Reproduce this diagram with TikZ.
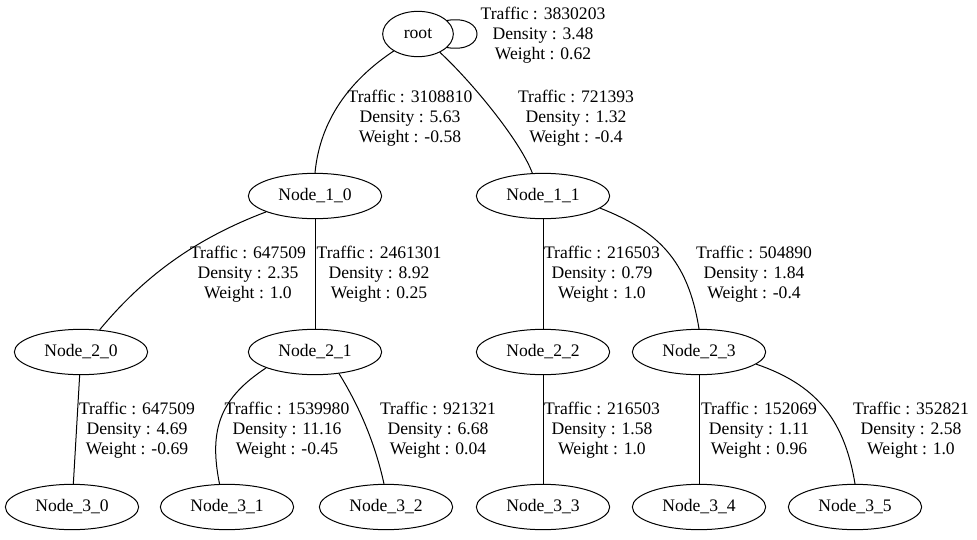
\documentclass[tikz,border=0pt]{standalone}
\usepackage{fontspec}
\setmainfont{Liberation Serif}
\newfontfamily\tmsfont{Liberation Serif}
\usetikzlibrary{shapes.geometric}
\begin{document}
\begin{tikzpicture}[x=0.75pt,y=-0.75pt,
  nd/.style={ellipse,draw,line width=0.75pt,minimum width=100pt,minimum height=34pt,inner sep=0pt,font=\tmsfont\fontsize{13.2}{15}\selectfont},
  lbl/.style={align=center,inner sep=0pt,font=\tmsfont\fontsize{13.2}{15}\selectfont},
  conn/.style={line width=0.75pt}]
\useasboundingbox (0,0) rectangle (977,539);
% nodes
\node[nd,minimum width=53pt] (root) at (418,34) {root};
\node[nd] (n10) at (315,196) {Node\_1\_0};
\node[nd] (n11) at (543,196) {Node\_1\_1};
\node[nd] (n20) at (81,352) {Node\_2\_0};
\node[nd] (n21) at (315,352) {Node\_2\_1};
\node[nd] (n22) at (543,352) {Node\_2\_2};
\node[nd] (n23) at (699,352) {Node\_2\_3};
\node[nd] (n30) at (72,507) {Node\_3\_0};
\node[nd] (n31) at (227,507) {Node\_3\_1};
\node[nd] (n32) at (386,507) {Node\_3\_2};
\node[nd] (n33) at (543,507) {Node\_3\_3};
\node[nd] (n34) at (699,507) {Node\_3\_4};
\node[nd] (n35) at (855,507) {Node\_3\_5};
% connectors
\draw[conn] (root.25) .. controls (487,14) and (487,54) .. (root.-25);
\draw[conn] (root.-145) .. controls (350,80) and (320,120) .. (n10.north);
\draw[conn] (root.-40) .. controls (470,80) and (520,140) .. (n11.115);
\draw[conn] (n10.-162) .. controls (197,238) and (145,275) .. (n20.50);
\draw[conn] (n10) -- (n21);
\draw[conn] (n11) -- (n22);
\draw[conn] (n11.-12) .. controls (658,231) and (688,260) .. (n23.north);
\draw[conn] (n20) -- (n30);
\draw[conn] (n21.-162) .. controls (222,397) and (208,427) .. (n31.108);
\draw[conn] (n21.-42) .. controls (361,409) and (376,447) .. (n32.95);
\draw[conn] (n22) -- (n33);
\draw[conn] (n23) -- (n34);
\draw[conn] (n23.-12) .. controls (814,384) and (844,417) .. (n35.north);
% labels
\node[lbl] (lroot) at (543,35) {Traffic : 3830203\\Density : 3.48\\Weight : 0.62};
\node[lbl] (lr10) at (410,118) {Traffic : 3108810\\Density : 5.63\\Weight : -0.58};
\node[lbl] (lr11) at (576,118) {Traffic : 721393\\Density : 1.32\\Weight : -0.4};
\node[lbl] (l1020) at (248,274) {Traffic : 647509\\Density : 2.35\\Weight : 1.0};
\node[lbl] (l1021) at (379,274) {Traffic : 2461301\\Density : 8.92\\Weight : 0.25};
\node[lbl] (l1122) at (602,274) {Traffic : 216503\\Density : 0.79\\Weight : 1.0};
\node[lbl] (l1123) at (754,274) {Traffic : 504890\\Density : 1.84\\Weight : -0.4};
\node[lbl] (l2030) at (137,430) {Traffic : 647509\\Density : 4.69\\Weight : -0.69};
\node[lbl] (l2131) at (287,430) {Traffic : 1539980\\Density : 11.16\\Weight : -0.45};
\node[lbl] (l2132) at (438,430) {Traffic : 921321\\Density : 6.68\\Weight : 0.04};
\node[lbl] (l2233) at (602,430) {Traffic : 216503\\Density : 1.58\\Weight : 1.0};
\node[lbl] (l2334) at (759,430) {Traffic : 152069\\Density : 1.11\\Weight : 0.96};
\node[lbl] (l2335) at (911,430) {Traffic : 352821\\Density : 2.58\\Weight : 1.0};
\end{tikzpicture}
\end{document}
